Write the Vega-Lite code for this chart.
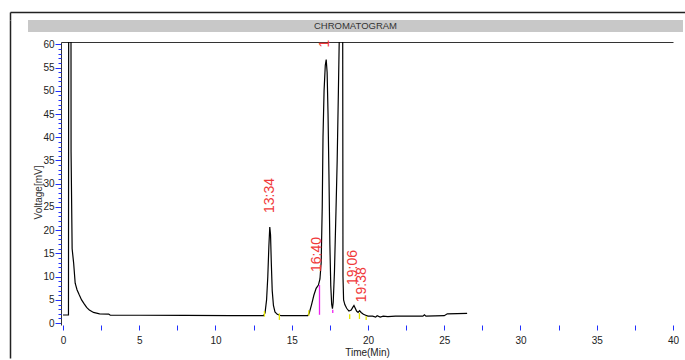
{
  "$schema": "https://vega.github.io/schema/vega-lite/v6.json",
  "padding": {"left": 7, "top": 12, "right": 0, "bottom": 0},
  "background": "white",
  "bounds": "flush",
  "spacing": 0,
  "config": {"font": "Liberation Sans", "view": {"stroke": null}},
  "datasets": {
    "trace": [
      {"t":0,"v":1.75},{"t":0.36,"v":1.75},{"t":0.38,"v":95},{"t":0.52,"v":95},{"t":0.53,"v":37},{"t":0.60,"v":16},{"t":0.70,"v":12.9},{"t":0.80,"v":8.6},{"t":0.92,"v":7.2},{"t":1.05,"v":6.2},{"t":1.22,"v":5.0},{"t":1.38,"v":4.2},{"t":1.55,"v":3.4},{"t":1.73,"v":2.8},{"t":2.0,"v":2.3},{"t":2.4,"v":2.0},{"t":3.0,"v":1.95},{"t":3.1,"v":1.7},{"t":5,"v":1.7},{"t":8,"v":1.65},{"t":11,"v":1.6},{"t":13.15,"v":1.6},{"t":13.25,"v":2.2},{"t":13.35,"v":5},{"t":13.43,"v":10},{"t":13.5,"v":16.5},{"t":13.56,"v":20.7},{"t":13.61,"v":19},{"t":13.66,"v":13},{"t":13.72,"v":7},{"t":13.8,"v":3.8},{"t":13.9,"v":2.4},{"t":14.05,"v":1.9},{"t":14.3,"v":1.6},{"t":16.05,"v":1.6},{"t":16.15,"v":2.2},{"t":16.3,"v":4},{"t":16.45,"v":6},{"t":16.6,"v":7.5},{"t":16.75,"v":8.2},{"t":16.85,"v":9.5},{"t":16.93,"v":13},{"t":17.0,"v":25},{"t":17.05,"v":40},{"t":17.12,"v":50},{"t":17.2,"v":55.5},{"t":17.26,"v":56.7},{"t":17.32,"v":54},{"t":17.38,"v":45},{"t":17.44,"v":32},{"t":17.5,"v":17},{"t":17.56,"v":8},{"t":17.62,"v":4},{"t":17.67,"v":3.1},{"t":17.72,"v":4.5},{"t":17.8,"v":11},{"t":17.9,"v":24},{"t":17.98,"v":35},{"t":18.06,"v":50},{"t":18.12,"v":62},{"t":18.14,"v":95},{"t":18.33,"v":95},{"t":18.36,"v":10},{"t":18.4,"v":5},{"t":18.48,"v":4},{"t":18.6,"v":3.2},{"t":18.75,"v":2.6},{"t":18.9,"v":2.8},{"t":19.0,"v":3.4},{"t":19.08,"v":3.8},{"t":19.15,"v":3.3},{"t":19.25,"v":2.6},{"t":19.35,"v":2.3},{"t":19.45,"v":2.7},{"t":19.55,"v":2.3},{"t":19.7,"v":1.9},{"t":19.85,"v":1.7},{"t":20.0,"v":1.5},{"t":20.3,"v":1.5},{"t":20.5,"v":1.3},{"t":20.6,"v":1.6},{"t":20.8,"v":1.3},{"t":21.0,"v":1.5},{"t":21.3,"v":1.4},{"t":21.8,"v":1.5},{"t":23.6,"v":1.5},{"t":23.7,"v":1.8},{"t":23.8,"v":1.5},{"t":25.0,"v":1.6},{"t":25.2,"v":2.0},{"t":26.5,"v":2.1}
    ],
    "marks": [
      {"t":13.21,"lo":1.4,"hi":2.6,"kind":"boundary"},
      {"t":14.19,"lo":0.7,"hi":2.1,"kind":"boundary"},
      {"t":16.12,"lo":1.6,"hi":2.8,"kind":"boundary"},
      {"t":18.8,"lo":0.9,"hi":1.9,"kind":"boundary"},
      {"t":19.44,"lo":0.9,"hi":2.2,"kind":"boundary"},
      {"t":19.88,"lo":0.7,"hi":1.5,"kind":"boundary"},
      {"t":16.82,"lo":1.8,"hi":8.2,"kind":"split"},
      {"t":17.69,"lo":2.2,"hi":2.9,"kind":"split"}
    ],
    "labels": [
      {"t":13.55,"v":23.7,"label":"13:34"},
      {"t":16.64,"v":11.0,"label":"16:40"},
      {"t":19.0,"v":8.2,"label":"19:06"},
      {"t":19.6,"v":4.5,"label":"19:38"},
      {"t":17.16,"v":59.3,"label":"1"}
    ]
  },
  "vconcat": [
    {
      "width": 677,
      "height": 8,
      "data": {"values": [{"part": "frame top"}]},
      "mark": {"type": "point", "opacity": 0},
      "encoding": {
        "x": {"datum": 0, "type": "quantitative", "scale": {"domain": [0, 1]},
              "axis": {"orient": "top", "domain": true, "domainColor": "#222", "domainWidth": 1.5, "ticks": false, "labels": false, "grid": false, "title": null}},
        "y": {"datum": 0, "type": "quantitative", "scale": {"domain": [0, 1]},
              "axis": {"orient": "left", "domain": true, "domainColor": "#222", "domainWidth": 1.5, "ticks": false, "labels": false, "grid": false, "title": null}}
      }
    },
    {
      "hconcat": [
        {
          "width": 18,
          "height": 338,
          "data": {"values": [{"part": "frame left"}]},
          "mark": {"type": "point", "opacity": 0},
          "encoding": {
            "y": {"datum": 0, "type": "quantitative", "scale": {"domain": [0, 1]},
                  "axis": {"orient": "left", "domain": true, "domainColor": "#222", "domainWidth": 1.5, "ticks": false, "labels": false, "grid": false, "title": null}}
          }
        },
        {
          "vconcat": [
            {
              "width": 655,
              "height": 12,
              "view": {"fill": "#c8c8c8", "stroke": null},
              "data": {"values": [{"title": "CHROMATOGRAM"}]},
              "mark": {"type": "text", "fontSize": 9.5, "color": "#333333", "baseline": "middle", "align": "center"},
              "encoding": {"text": {"field": "title", "type": "nominal"}}
            },
            {
              "hconcat": [
                {
                  "width": 1, "height": 1,
                  "data": {"values": [{"part": "spacer"}]},
                  "mark": {"type": "point", "opacity": 0},
                  "encoding": {}
                },
                {
                  "width": 612,
                  "height": 283,
                  "resolve": {"axis": {"x": "independent", "y": "independent"}},
                  "layer": [
                    {
                      "data": {"name": "trace"},
                      "mark": {"type": "line", "color": "#000000", "strokeWidth": 1.2, "clip": true},
                      "encoding": {
                        "x": {"field": "t", "type": "quantitative",
                              "scale": {"domain": [-0.13, 40], "nice": false, "zero": false},
                              "axis": {"orient": "bottom", "domain": false, "values": [0,2.5,5,7.5,10,12.5,15,17.5,20,22.5,25,27.5,30,32.5,35,37.5,40],
                                       "labelExpr": "datum.value % 5 === 0 ? datum.label : ''", "labelOverlap": false, "labelFlush": false,
                                       "tickSize": 5, "tickColor": "#2030ff", "tickWidth": 1, "grid": false,
                                       "labelFontSize": 10, "labelColor": "#222222", "labelPadding": 5,
                                       "title": "Time(Min)", "titleFontSize": 10, "titleFontWeight": "normal", "titleColor": "#222222", "titlePadding": 2}},
                        "y": {"field": "v", "type": "quantitative",
                              "scale": {"domain": [-0.4, 60.5], "nice": false, "zero": false},
                              "axis": {"orient": "left", "domain": true, "domainColor": "#333333", "domainWidth": 1,
                                       "values": [0,5,10,15,20,25,30,35,40,45,50,55,60],
                                       "labelOverlap": false, "labelFlush": false,
                                       "tickSize": 6, "tickColor": "#2030ff", "tickWidth": 1, "grid": false,
                                       "labelFontSize": 10, "labelColor": "#222222", "labelPadding": 1,
                                       "title": "Voltage[mV]", "titleFontSize": 10, "titleFontWeight": "normal", "titleColor": "#333333",
                                       "titleX": -18, "titleY": 150, "titleAngle": 270, "titleAlign": "center", "titleBaseline": "bottom"}}
                      }
                    },
                    {
                      "data": {"name": "marks"},
                      "mark": {"type": "rule", "strokeWidth": 1.3},
                      "encoding": {
                        "x": {"field": "t", "type": "quantitative", "scale": {"domain": [-0.13, 40], "nice": false, "zero": false}, "axis": null},
                        "y": {"field": "lo", "type": "quantitative", "scale": {"domain": [-0.4, 60.5], "nice": false, "zero": false}, "axis": null},
                        "y2": {"field": "hi"},
                        "color": {"field": "kind", "type": "nominal", "scale": {"domain": ["boundary", "split"], "range": ["#e6e600", "#ee22ee"]}, "legend": null}
                      }
                    },
                    {
                      "data": {"name": "labels"},
                      "mark": {"type": "text", "angle": 270, "align": "left", "baseline": "middle", "fontSize": 14, "color": "#f03a3a"},
                      "encoding": {
                        "x": {"field": "t", "type": "quantitative", "scale": {"domain": [-0.13, 40], "nice": false, "zero": false}, "axis": null},
                        "y": {"field": "v", "type": "quantitative", "scale": {"domain": [-0.4, 60.5], "nice": false, "zero": false}, "axis": null},
                        "text": {"field": "label", "type": "nominal"}
                      }
                    },
                    {
                      "data": {"values": [{"part": "topline and minor ticks"}]},
                      "mark": {"type": "point", "opacity": 0},
                      "encoding": {
                        "x": {"datum": 0, "type": "quantitative", "scale": {"domain": [-0.13, 40], "nice": false, "zero": false},
                              "axis": {"orient": "top", "domain": true, "domainColor": "#333333", "domainWidth": 1, "ticks": false, "labels": false, "grid": false, "title": null}},
                        "y": {"datum": 0, "type": "quantitative", "scale": {"domain": [-0.4, 60.5], "nice": false, "zero": false},
                              "axis": {"orient": "left", "domain": false, "labels": false, "grid": false, "title": null,
                                       "values": [1,2,3,4,6,7,8,9,11,12,13,14,16,17,18,19,21,22,23,24,26,27,28,29,31,32,33,34,36,37,38,39,41,42,43,44,46,47,48,49,51,52,53,54,56,57,58,59],
                                       "tickSize": 3, "tickColor": "#2030ff", "tickWidth": 1}}
                      }
                    }
                  ]
                }
              ],
              "spacing": 32,
              "bounds": "flush"
            }
          ],
          "spacing": 10,
          "bounds": "flush"
        }
      ],
      "spacing": 0,
      "bounds": "flush"
    }
  ]
}
